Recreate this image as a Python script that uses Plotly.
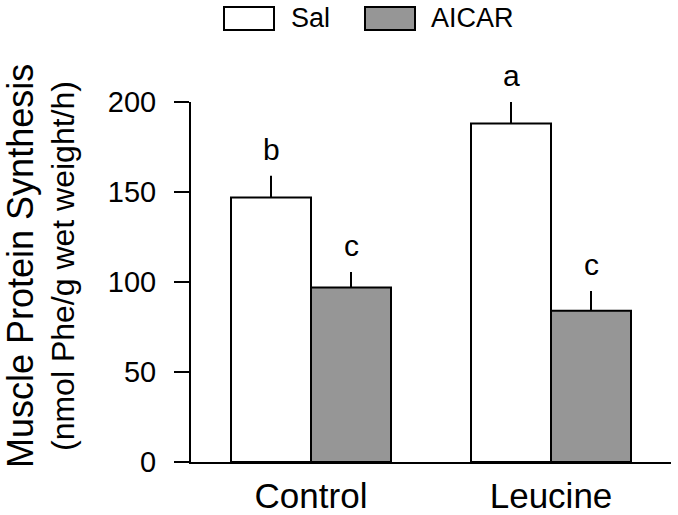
import plotly.graph_objects as go

categories = ["Control", "Leucine"]
sal_values = [147, 188]
sal_errors = [12, 12]
aicar_values = [97, 84]
aicar_errors = [8.5, 11]
sal_letters = ["b", "a"]
aicar_letters = ["c", "c"]
y_ticks = [0, 50, 100, 150, 200]

FONT = "Liberation Sans, Arial, sans-serif"
GRAY = "#969696"

fig = go.Figure()
fig.add_trace(go.Bar(
    name="Sal", x=categories, y=sal_values,
    marker=dict(color="white", line=dict(color="black", width=2)),
    error_y=dict(type="data", array=sal_errors, arrayminus=[0]*len(sal_errors),
                 symmetric=False, color="black", thickness=2, width=0),
    showlegend=False,
))
fig.add_trace(go.Bar(
    name="AICAR", x=categories, y=aicar_values,
    marker=dict(color=GRAY, line=dict(color="black", width=2)),
    error_y=dict(type="data", array=aicar_errors, arrayminus=[0]*len(aicar_errors),
                 symmetric=False, color="black", thickness=2, width=0),
    showlegend=False,
))

# significance letters above error bars
ann = []
for i, c in enumerate(categories):
    for off, vals, errs, letters in ((-1/6, sal_values, sal_errors, sal_letters),
                                      (1/6, aicar_values, aicar_errors, aicar_letters)):
        ann.append(dict(x=i + off, y=vals[i] + errs[i], xref="x", yref="y",
                        text=letters[i], showarrow=False, yanchor="bottom",
                        yshift=8, font=dict(size=30, color="black", family=FONT)))

# y-axis title (two lines, different sizes)
L, T, W, H = 191, 102, 480, 360
def px(x):
    return (x - L) / W
def py(y):
    return 1 - (y - T) / H

ann.append(dict(x=px(20), y=py(266), xref="paper", yref="paper", textangle=-90,
                text="Muscle Protein Synthesis", showarrow=False,
                xanchor="center", yanchor="middle",
                font=dict(size=36, color="black", family=FONT)))
ann.append(dict(x=px(63), y=py(266), xref="paper", yref="paper", textangle=-90,
                text="(nmol Phe/g wet weight/h)", showarrow=False,
                xanchor="center", yanchor="middle",
                font=dict(size=32, color="black", family=FONT)))

# legend
shapes = []
legend_items = [("Sal", "white", 224, 289), ("AICAR", GRAY, 365, 429)]
for name, col, bx, tx in legend_items:
    shapes.append(dict(type="rect", xref="paper", yref="paper",
                       x0=px(bx), x1=px(bx + 50), y0=py(30), y1=py(7),
                       fillcolor=col, line=dict(color="black", width=2)))
    ann.append(dict(x=px(tx), y=py(18), xref="paper", yref="paper", text=name,
                    showarrow=False, xanchor="left", yanchor="middle",
                    font=dict(size=27, color="black", family=FONT)))

fig.update_layout(
    width=678, height=515,
    margin=dict(l=L, r=678 - L - W, t=T, b=515 - T - H, autoexpand=False),
    paper_bgcolor="white", plot_bgcolor="white",
    barmode="group", bargap=1/3, bargroupgap=0,
    font=dict(family=FONT, color="black"),
    annotations=ann, shapes=shapes,
    xaxis=dict(showline=True, linecolor="black", linewidth=2, ticks="",
               showgrid=False, zeroline=False, range=[-0.5, 1.5], automargin=False,
               tickfont=dict(size=35, family=FONT, color="black"),
               ticklabelstandoff=2),
    yaxis=dict(range=[0, 200], tickvals=y_ticks, showline=True, linecolor="black",
               linewidth=2, ticks="outside", ticklen=15, tickwidth=2, automargin=False,
               tickcolor="black", showgrid=False, zeroline=False,
               tickfont=dict(size=29, family=FONT, color="black"),
               ticklabelstandoff=12),
)
fig.update_traces(cliponaxis=False)

fig.write_html("out.html", config={"displayModeBar": False},
               post_script="document.body.style.margin='0';document.body.style.overflow='hidden';")
